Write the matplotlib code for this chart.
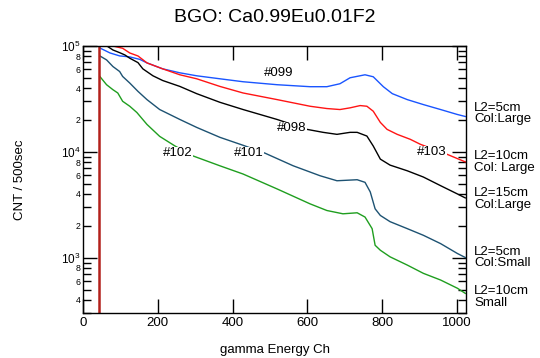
import numpy as np
import matplotlib.pyplot as plt
from matplotlib.ticker import LogLocator, FuncFormatter, FixedLocator

plt.rcParams['font.family'] = ['Liberation Sans', 'DejaVu Sans']
plt.rcParams['mathtext.fontset'] = 'custom'
plt.rcParams['mathtext.rm'] = 'Liberation Sans'

# spectra: channel, counts per 500 s
ch_099 = [45, 72, 98, 125, 152, 171, 213, 259, 304, 366, 428, 519, 607, 652, 687,
          714, 754, 776, 803, 827, 867, 910, 956, 1001, 1022]
cnt_099 = [95800, 86000, 80600, 78900, 74700, 69250, 60840, 55800, 52300, 49000, 45950,
           43070, 41250, 41250, 44000, 50100, 53450, 51200, 41250, 35450, 31150, 27960,
           25100, 22530, 21580]

ch_103 = [45, 80, 106, 125, 147, 171, 213, 259, 304, 366, 428, 519, 607, 652, 687, 714,
          741, 759, 776, 795, 813, 840, 875, 902, 973, 1022]
cnt_103 = [130000, 100000, 95150, 85950, 80500, 69250, 60840, 53450, 49000, 41500, 35980,
           31150, 26960, 25650, 25100, 26040, 27360, 26960, 24200, 18960, 16300, 14630,
           13130, 11780, 9490, 8040]

ch_098 = [42, 63, 80, 98, 112, 125, 147, 160, 187, 213, 259, 304, 366, 428, 519, 599,
          642, 679, 714, 733, 759, 776, 795, 821, 867, 910, 956, 1001, 1022]
cnt_098 = [115000, 100500, 91700, 86500, 82300, 76700, 69650, 60840, 52300, 47200, 41500,
           35450, 29380, 25100, 20220, 16300, 15280, 14630, 15280, 15280, 14100, 11350,
           8530, 7490, 6620, 5780, 4790, 4000, 3670]

ch_101 = [45, 63, 80, 98, 106, 125, 147, 171, 205, 259, 304, 366, 428, 487, 562, 634,
          679, 733, 754, 768, 781, 795, 821, 867, 910, 956, 1001, 1022]
cnt_101 = [80600, 73900, 63970, 57400, 51550, 44670, 37250, 31150, 25100, 20220, 17010,
           13710, 11530, 9700, 7380, 5940, 5330, 5450, 5150, 4180, 2895, 2505, 2188, 1880,
           1627, 1358, 1095, 1004]

ch_102 = [45, 63, 80, 93, 106, 125, 144, 171, 205, 246, 294, 366, 428, 519, 607, 652,
          695, 733, 754, 773, 781, 795, 821, 867, 910, 956, 1001, 1022]
cnt_102 = [51550, 43070, 38650, 35980, 30030, 26960, 23530, 18160, 14000, 11350, 9150,
           7380, 6170, 4460, 3225, 2790, 2597, 2655, 2420, 1880, 1310, 1175, 1018, 851,
           711, 615, 514, 460]

fig = plt.figure(figsize=(5.4, 3.58), dpi=100)
ax = fig.add_axes([83 / 540, 1 - 313 / 358, 383 / 540, 267 / 358])

ax.plot(ch_099, cnt_099, color='#1a55ff', lw=1.0)
ax.plot(ch_103, cnt_103, color='#ff1414', lw=1.0)
ax.plot(ch_098, cnt_098, color='black', lw=1.0)
ax.plot(ch_101, cnt_101, color='#1d5272', lw=1.0)
ax.plot(ch_102, cnt_102, color='#1f9e1f', lw=1.0)
ax.axvline(42, color='#b3201a', lw=1.8)

ax.set_yscale('log')
ax.set_xlim(0, 1024)
ax.set_ylim(300, 1e5)

ax.set_xticks([0, 200, 400, 600, 800, 1000])
ax.yaxis.set_major_locator(FixedLocator([1e3, 1e4, 1e5]))
ax.yaxis.set_minor_locator(LogLocator(base=10, subs=range(2, 10), numticks=20))
ax.yaxis.set_major_formatter(FuncFormatter(
    lambda v, p: r'$\mathregular{10^{%d}}$' % round(np.log10(v))))


def minor_lab(v, p):
    m = int(round(v / 10 ** np.floor(np.log10(v) + 1e-9)))
    return str(m) if m in (2, 4, 6, 8) else ''


ax.yaxis.set_minor_formatter(FuncFormatter(minor_lab))
ax.tick_params(which='both', direction='in', top=True, right=True, width=1)
ax.tick_params(which='major', length=10, labelsize=9.5, pad=3)
ax.tick_params(axis='y', which='major', labelsize=8.5, pad=2)
ax.tick_params(axis='y', which='minor', length=6, labelsize=6.3, pad=2)
for s in ax.spines.values():
    s.set_linewidth(1)

ax.set_xlabel('gamma Energy Ch', fontsize=9.5, labelpad=11)
ax.set_ylabel('CNT / 500sec', fontsize=9.5)
ax.yaxis.set_label_coords(-0.15, 0.5)
fig.text(274.5 / 540, 1 - 18 / 358, 'BGO: Ca0.99Eu0.01F2', fontsize=14,
         ha='center', va='center')

box = dict(facecolor='white', edgecolor='none', pad=0.3)
for x, y, s in [(522, 55800, '#099'), (559, 16650, '#098'), (253, 9700, '#102'),
                (444, 9700, '#101'), (933, 9910, '#103')]:
    ax.text(x, y, s, fontsize=9.5, ha='center', va='center', bbox=box, zorder=5)

for y, s in [(23000, 'L2=5cm\nCol:Large'), (7980, 'L2=10cm\nCol: Large'),
             (3590, 'L2=15cm\nCol:Large'), (1005, 'L2=5cm\nCol:Small'),
             (424, 'L2=10cm\nSmall')]:
    ax.text(1046, y, s, fontsize=9.5, ha='left', va='center', linespacing=0.95,
            clip_on=False)

fig.savefig('out.png', dpi=100)
